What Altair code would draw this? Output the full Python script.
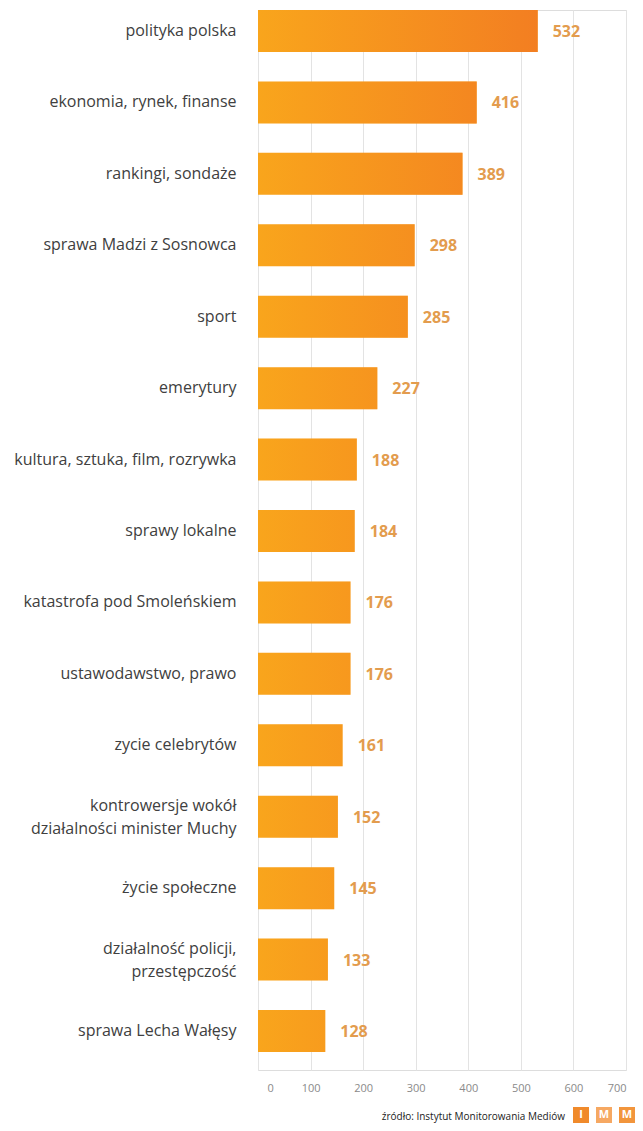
import altair as alt
import pandas as pd

categories = [
    "polityka polska",
    "ekonomia, rynek, finanse",
    "rankingi, sondaże",
    "sprawa Madzi z Sosnowca",
    "sport",
    "emerytury",
    "kultura, sztuka, film, rozrywka",
    "sprawy lokalne",
    "katastrofa pod Smoleńskiem",
    "ustawodawstwo, prawo",
    "zycie celebrytów",
    "kontrowersje wokół |działalności minister Muchy",
    "życie społeczne",
    "działalność policji, |przestępczość",
    "sprawa Lecha Wałęsy",
]
values = [532, 416, 389, 298, 285, 227, 188, 184, 176, 176, 161, 152, 145, 133, 128]
x_ticks = [0, 100, 200, 300, 400, 500, 600, 700]
source_text = "źródło: Instytut Monitorowania Mediów"
logo_letters = ["I", "M", "M"]

df = pd.DataFrame({"category": categories, "value": values})

W = 368
H = 1060

y_enc = alt.Y(
    "category:N",
    sort=categories,
    scale=alt.Scale(paddingInner=0.412, paddingOuter=0.126, align=0),
    axis=alt.Axis(
        title=None, ticks=False, domain=False, grid=False,
        labelPadding=22, labelFontSize=16, labelColor="#404040",
        labelFont="Open Sans", labelLimit=400,
        labelExpr="split(datum.label, '|')", labelLineHeight=23,
        labelOffset={"condition": {"test": "indexof(datum.value, '|') >= 0", "value": -11}, "value": 0},
    ),
)
x_enc = alt.X(
    "value:Q",
    scale=alt.Scale(domain=[0, 700], nice=False),
    axis=alt.Axis(
        title=None, values=x_ticks, ticks=False, domain=False,
        gridColor="#E3E3E3", gridWidth=1,
        labelFontSize=11, labelColor="#8A8A8A", labelFont="Open Sans",
        labelPadding=12,
        labelOffset={"condition": {"test": "datum.value === 0", "value": 9}, "value": 0},
    ),
)

base = alt.Chart(df)

bars = base.mark_bar(color="#F9A51C").encode(x=x_enc, y=y_enc)

overlay = base.mark_bar(
    color=alt.Gradient(
        gradient="linear",
        stops=[
            alt.GradientStop(color="rgba(242,122,34,0)", offset=0),
            alt.GradientStop(color="rgba(242,122,34,1)", offset=1),
        ],
        x1=0, x2=1, y1=0, y2=0,
    )
).encode(
    x="value:Q",
    y=alt.Y("category:N", sort=categories),
    opacity=alt.Opacity("value:Q", scale=alt.Scale(domain=[0, 532], range=[0, 0.9]), legend=None),
)

labels = base.mark_text(
    align="left", baseline="middle", dx=15, dy=1, fontSize=16, fontWeight="bold",
    color="#E39C4E", font="Open Sans",
).encode(x="value:Q", y=alt.Y("category:N", sort=categories), text="value:Q")

foot_df = pd.DataFrame({"t": [source_text]})
footer = alt.Chart(foot_df).mark_text(
    align="right", baseline="middle", fontSize=10, color="#222222", font="Open Sans",
).encode(x=alt.value(307), y=alt.value(1107), text="t:N")

logo_layers = []
box_specs = [(315, 331, "#F08A2B"), (338, 354, "#F6A862"), (361, 377, "#F2953C")]
for i, (x1, x2, col) in enumerate(box_specs):
    d = pd.DataFrame({"letter": [logo_letters[i]]})
    logo_layers.append(
        alt.Chart(d).mark_rect(color=col).encode(
            x=alt.value(x1), x2=alt.value(x2), y=alt.value(1097), y2=alt.value(1113)
        )
    )
    logo_layers.append(
        alt.Chart(d).mark_text(color="white", fontSize=11, fontWeight="bold", font="Open Sans",
                               baseline="middle", align="center").encode(
            x=alt.value((x1 + x2) / 2), y=alt.value(1105), text="letter:N"
        )
    )

chart = alt.layer(bars, overlay, labels, footer, *logo_layers).properties(
    width=W, height=H,
    autosize=alt.AutoSizeParams(type="none"),
    padding={"left": 250, "top": 2, "right": 9, "bottom": 53},
).configure_view(stroke=None).configure(background="white")

chart.save("out.html", embed_options={"renderer": "svg", "actions": False})
